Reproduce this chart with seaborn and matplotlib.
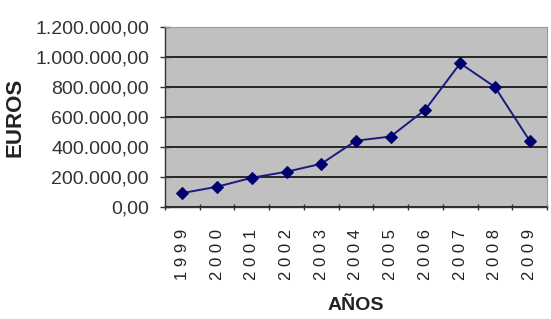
import matplotlib
matplotlib.use("Agg")
import matplotlib.pyplot as plt
import seaborn as sns
import pandas as pd
from matplotlib.ticker import FuncFormatter, FixedLocator

years = ["1999", "2000", "2001", "2002", "2003", "2004", "2005", "2006", "2007", "2008", "2009"]
euros = [93000, 135000, 195000, 235000, 288000, 442000, 470000, 650000, 958000, 800000, 442000]

sns.set_theme(style="white")
plt.rcParams['font.family'] = ['Liberation Sans', 'DejaVu Sans']

df = pd.DataFrame({"year": years, "euros": euros})
df["pos"] = range(len(years))

fig = plt.figure(figsize=(5.51, 3.19), dpi=100)
ax = fig.add_axes([165/551, 1-207/319, (547-165)/551, (207-27)/319])
ax.set_facecolor("#C0C0C0")

sns.lineplot(data=df, x="pos", y="euros", ax=ax, color="#1a1a80", marker="D",
             markersize=6.5, markeredgecolor="#000070", markerfacecolor="#000070",
             linewidth=1.4)

ax.set_xlim(-0.5, len(years) - 0.5)
ax.set_ylim(0, 1200000)
ax.set_yticks(range(0, 1200001, 200000))
ax.yaxis.set_major_formatter(FuncFormatter(
    lambda v, p: f"{v:,.2f}".replace(",", "X").replace(".", ",").replace("X", ".")))
ax.grid(axis="y", color="#1a1a1a", linewidth=1.3)
ax.set_axisbelow(True)

ax.set_xticks(df["pos"])
ax.set_xticklabels([" ".join(y) for y in years], rotation=90)
ax.xaxis.set_minor_locator(FixedLocator([i - 0.5 for i in range(len(years) + 1)]))
ax.tick_params(axis="x", which="major", length=0, pad=16, labelsize=12, colors="#222222")
ax.tick_params(axis="x", which="minor", length=5, width=1, color="#333333", direction="inout", bottom=True)
ax.tick_params(axis="y", length=7, width=1, color="#333333", direction="inout", left=True,
               labelsize=14, labelcolor="#333333", pad=8)

for s in ["top", "right"]:
    ax.spines[s].set_color("#9a9a9a")
    ax.spines[s].set_linewidth(0.8)
for s in ["left", "bottom"]:
    ax.spines[s].set_color("#333333")
    ax.spines[s].set_linewidth(1)

ax.set_xlabel("")
ax.set_ylabel("")
fig.text(356/551, 1-305/319, "AÑOS", fontsize=14, fontweight="bold", color="#222222",
         ha="center", va="center")
fig.text(15/551, 1-117/319, "EUROS", fontsize=16, fontweight="bold", color="#222222",
         ha="center", va="center", rotation=90)

fig.savefig("out.png", dpi=100)
